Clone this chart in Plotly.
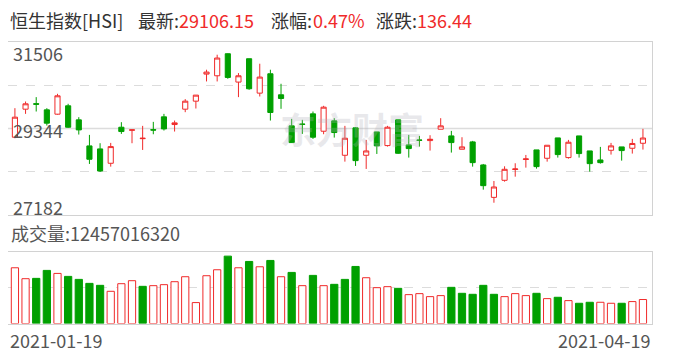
import plotly.graph_objects as go

# ---------------- data ----------------
dates = ["2021-01-19","2021-01-20","2021-01-21","2021-01-22","2021-01-25","2021-01-26","2021-01-27","2021-01-28","2021-01-29",
         "2021-02-01","2021-02-02","2021-02-03","2021-02-04","2021-02-05","2021-02-08","2021-02-09","2021-02-10","2021-02-11",
         "2021-02-16","2021-02-17","2021-02-18","2021-02-19","2021-02-22","2021-02-23","2021-02-24","2021-02-25","2021-02-26",
         "2021-03-01","2021-03-02","2021-03-03","2021-03-04","2021-03-05","2021-03-08","2021-03-09","2021-03-10","2021-03-11",
         "2021-03-12","2021-03-15","2021-03-16","2021-03-17","2021-03-18","2021-03-19","2021-03-22","2021-03-23","2021-03-24",
         "2021-03-25","2021-03-26","2021-03-29","2021-03-30","2021-03-31","2021-04-01","2021-04-07","2021-04-08","2021-04-09",
         "2021-04-12","2021-04-13","2021-04-14","2021-04-15","2021-04-16","2021-04-19"]

open_ = [29126, 29827, 29965, 29810, 29702, 29911, 29560, 28909, 28834, 28475,
         29376, 29300, 29090, 29315, 29635, 29443, 29827, 30027, 30704, 30662,
         31213, 30504, 31088, 30228, 30712, 30186, 29410, 29455, 29710, 29276,
         29535, 28675, 29360, 28675, 29259, 28917, 29560, 28934, 29055, 29042,
         29326, 29159, 28825, 29009, 28433, 27623, 28049, 28320, 28570, 28809,
         28600, 29109, 28617, 29159, 28784, 28558, 28800, 28884, 28850, 28975]
high = [29852, 30019, 30128, 29852, 30211, 29961, 29627, 29184, 28976, 28984,
        29502, 29315, 29410, 29510, 29710, 29543, 30078, 30180, 30813, 31188,
        31220, 30729, 31088, 30963, 30813, 30462, 29585, 29560, 29769, 29911,
        29602, 29410, 29376, 29059, 29259, 29410, 29560, 29184, 29159, 29176,
        29602, 29284, 29126, 29034, 28458, 28032, 28399, 28475, 28683, 28809,
        28925, 29109, 29059, 29159, 28784, 28884, 28984, 28884, 29084, 29335]
low = [29100, 29710, 29769, 29418, 29690, 29360, 29193, 28458, 28257, 28391,
       29209, 28976, 28808, 29200, 29293, 29268, 29752, 29844, 30520, 30520,
       30587, 30128, 30311, 30144, 29543, 29836, 28992, 29209, 29084, 29201,
       29117, 28516, 28408, 28333, 28708, 28892, 28708, 28617, 28892, 28792,
       29326, 28742, 28825, 28391, 27815, 27489, 28015, 28140, 28366, 28341,
       28516, 28617, 28591, 28617, 28266, 28466, 28692, 28541, 28717, 28817]
close = [29627, 29961, 29950, 29477, 30161, 29376, 29309, 28575, 28282, 28892,
         29268, 29310, 29100, 29305, 29334, 29485, 30027, 30178, 30754, 31105,
         30620, 30662, 30337, 30629, 29744, 30094, 28992, 29448, 29126, 29877,
         29243, 29101, 28541, 28783, 28909, 29376, 28725, 28842, 29050, 29075,
         29410, 28992, 28884, 28491, 27915, 27882, 28324, 28332, 28583, 28391,
         28925, 28692, 29001, 28717, 28466, 28491, 28909, 28792, 28969.71, 29106.15]
# volume in units of 1e8 shares
volume = [289.5, 232.7, 234.4, 275.8, 260.2, 244.7, 229.2, 208.5, 198.2, 167.2,
          206.8, 222.3, 193.0, 196.5, 201.7, 217.2, 243.0, 108.6, 248.2, 279.2,
          349.9, 289.5, 322.3, 294.7, 327.5, 243.0, 265.4, 196.5, 249.9, 196.5,
          203.4, 229.2, 296.4, 237.8, 186.1, 191.3, 182.7, 149.9, 155.1, 139.6,
          144.8, 187.9, 156.8, 151.7, 198.2, 151.7, 139.6, 155.1, 144.8, 156.8,
          129.3, 136.2, 118.9, 105.1, 110.3, 110.3, 105.1, 105.1, 113.8, 124.5701632]

price_ticks = [27182, 29344, 31506]
vol_max = 374
index_name = "恒生指数[HSI]"

# ---------------- style ----------------
RED = "#f02a2a"
GREEN = "#00a000"
GRID = "#dcdcdc"
BORDER = "#d2d2d2"
TXT = "#555555"
FONT = "Noto Sans CJK SC, Microsoft YaHei, sans-serif"
OFF = 8                     # page body margin
W, H = 688 - OFF, 360 - OFF

def px(x):
    return (x - OFF) / W

def py(y):
    return 1 - (y - OFF) / H

n = len(close)
idx = list(range(n))

vol_fill, vol_line = [], []
for i in range(n):
    ref = close[i - 1] if i > 0 else open_[i]
    up = close[i] >= ref
    vol_fill.append("white" if up else GREEN)
    vol_line.append(RED if up else GREEN)

fig = go.Figure()
fig.add_trace(go.Candlestick(
    x=idx, open=open_, high=high, low=low, close=close,
    increasing=dict(line=dict(color=RED, width=1), fillcolor="white"),
    decreasing=dict(line=dict(color=GREEN, width=1), fillcolor=GREEN),
    whiskerwidth=0, xaxis="x", yaxis="y", showlegend=False, hoverinfo="skip"))
fig.add_trace(go.Bar(
    x=idx, y=volume, width=0.68,
    marker=dict(color=vol_fill, line=dict(color=vol_line, width=1)),
    xaxis="x2", yaxis="y2", showlegend=False, hoverinfo="skip"))

ymin, ymid, ymax = price_ticks
q1 = (ymin + ymid) / 2
q3 = (ymid + ymax) / 2
xr = [-0.65, n - 1 + 0.85]
xdom = [px(8), px(652)]

fig.update_layout(
    width=W, height=H, margin=dict(l=0, r=0, t=0, b=0),
    paper_bgcolor="white", plot_bgcolor="white",
    boxgap=0.31,
    xaxis=dict(domain=xdom, range=xr, anchor="y", showgrid=False, zeroline=False,
               showticklabels=False, ticks="", showline=True, mirror=True,
               linecolor=BORDER, linewidth=1, rangeslider=dict(visible=False), fixedrange=True),
    yaxis=dict(domain=[py(215), py(42)], range=[ymin, ymax], showticklabels=False, ticks="",
               tickvals=[q1, q3], showgrid=True, gridcolor=GRID, griddash="dash", gridwidth=1,
               zeroline=False, showline=True, mirror=True, linecolor=BORDER, linewidth=1),
    xaxis2=dict(domain=xdom, range=xr, anchor="y2", matches="x", showgrid=False, zeroline=False,
                showticklabels=False, ticks="", showline=True, mirror=True,
                linecolor=BORDER, linewidth=1),
    yaxis2=dict(domain=[py(323.5), py(251.5)], range=[0, vol_max], showticklabels=False, ticks="",
                tickvals=[vol_max / 2], showgrid=True, gridcolor=GRID, griddash="dash",
                zeroline=False, showline=True, mirror=True, linecolor=BORDER, linewidth=1),
    shapes=[dict(type="line", xref="x", yref="y", x0=xr[0], x1=xr[1], y0=ymid, y1=ymid,
                 line=dict(color=GRID, width=1.5), layer="below")],
)

last = close[-1]
chg = close[-1] - close[-2]
pct = chg / close[-2] * 100

ann = []
def add(text, x, y, color=TXT, size=18, anchor="left", yanchor="middle", yref="paper"):
    ann.append(dict(text=text, x=x, y=y, xref="paper", yref=yref, xanchor=anchor,
                    yanchor=yanchor, showarrow=False,
                    font=dict(family=FONT, size=size, color=color)))

# watermark
ann.append(dict(text="<b>东方财富</b>", x=px(352), y=py(128), xref="paper", yref="paper",
                xanchor="center", yanchor="middle", showarrow=False,
                font=dict(family=FONT, size=36, color="rgba(175,175,185,0.28)")))

# title row
add(index_name, px(8), py(20), color="#333333")
add("最新:", px(136), py(20), color="#333333")
add(f"{last:.2f}", px(177), py(20), color=RED)
add("涨幅:", px(269), py(20), color="#333333")
add(f"{pct:.2f}%", px(311), py(20), color=RED)
add("涨跌:", px(374), py(20), color="#333333")
add(f"{chg:.2f}", px(415), py(20), color=RED)

# price axis labels
add(str(ymax), px(11), py(53))
add(str(ymid), px(11), py(130))
add(str(ymin), px(11), py(207))

# volume label
add(f"成交量:{round(volume[-1] * 1e8)}", px(9), py(233))

# date labels
add(dates[0], px(8), py(340))
add(dates[-1], px(652), py(340), anchor="right")

fig.update_layout(annotations=ann)
fig.write_html("out.html")
